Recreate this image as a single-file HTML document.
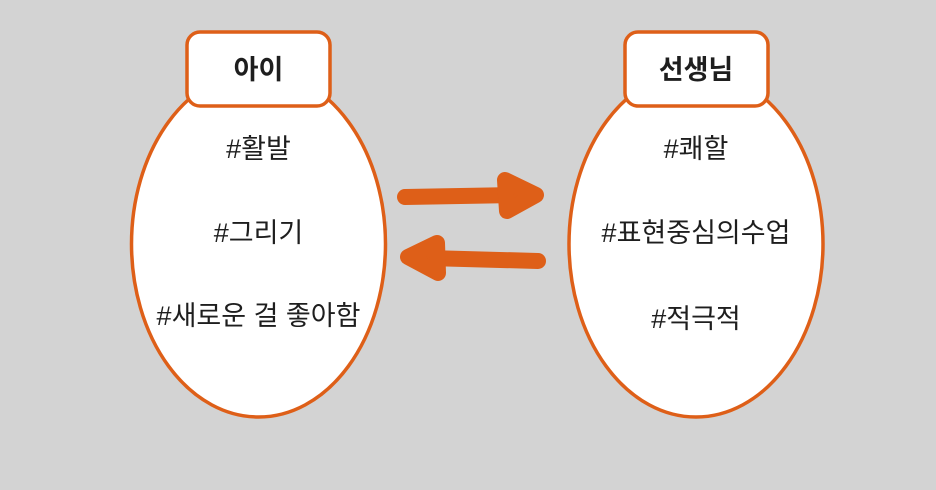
<!DOCTYPE html>
<html><head><meta charset="utf-8"><style>
html,body{margin:0;padding:0;background:#d3d3d3;}
svg{display:block}
text{font-family:"Liberation Sans","Noto Sans CJK KR",sans-serif;fill:#1e1e1e;}
</style></head><body>
<svg width="936" height="490" viewBox="0 0 936 490">
<g stroke="#de5f18" stroke-width="3.5" fill="#fff">
<ellipse cx="258.5" cy="244" rx="127" ry="173"/>
<rect x="187" y="32" width="143" height="74" rx="13"/>
<ellipse cx="696" cy="244" rx="127" ry="173"/>
<rect x="625" y="32" width="143" height="74" rx="13"/>
</g>
<g stroke="#de5f18" stroke-width="16" stroke-linecap="round" stroke-linejoin="round" fill="#de5f18">
<line x1="405" y1="197" x2="515" y2="195"/>
<polygon points="505,180 536,195 507,211"/>
<line x1="538" y1="261" x2="428" y2="258"/>
<polygon points="437,243 408,257 438,273"/>
</g>
<g font-size="27" text-anchor="middle">
<text x="258.5" y="79" font-weight="bold">아이</text>
<text x="696" y="79" font-weight="bold">선생님</text>
<text x="258.5" y="158">#활발</text>
<text x="258.5" y="242">#그리기</text>
<text x="258.5" y="325">#새로운 걸 좋아함</text>
<text x="696" y="158">#쾌할</text>
<text x="696" y="242">#표현중심의수업</text>
<text x="696" y="328">#적극적</text>
</g>
</svg>
</body></html>
